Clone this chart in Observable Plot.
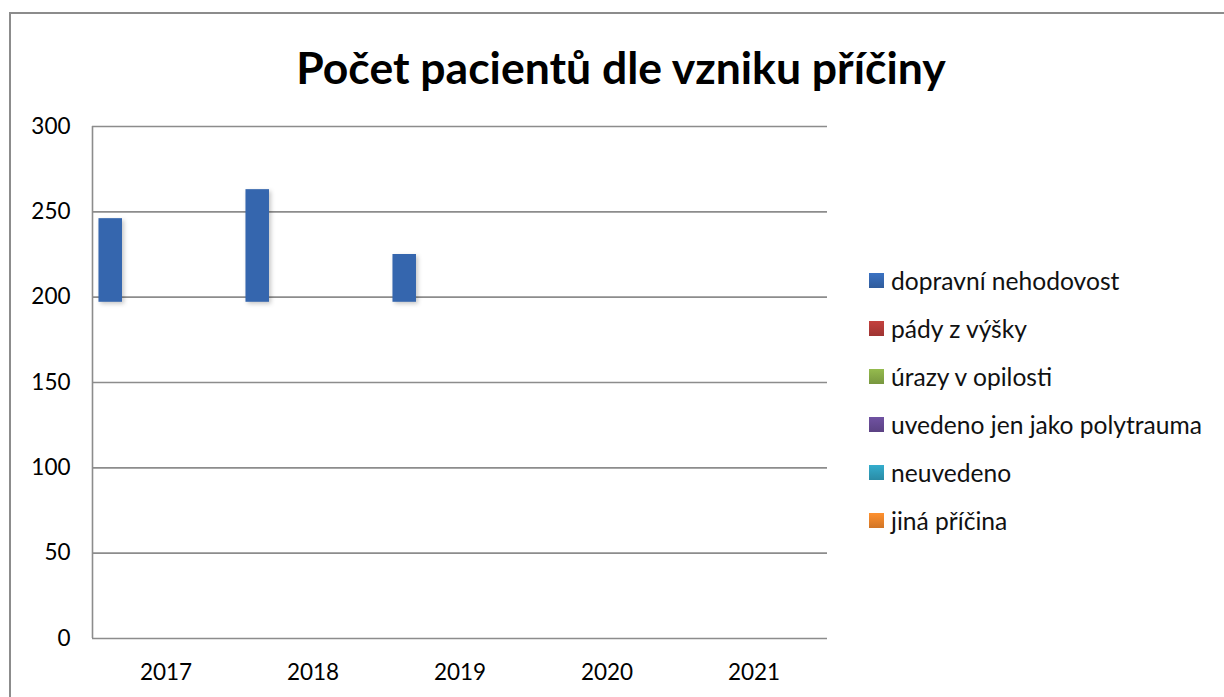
<!DOCTYPE html>
<html>
<head>
<meta charset="utf-8">
<script src="https://cdn.jsdelivr.net/npm/d3@7"></script>
<script src="https://cdn.jsdelivr.net/npm/@observablehq/plot@0.6"></script>
<style>
  html, body { margin: 0; padding: 0; background: #fff; }
  #page { position: relative; width: 1224px; height: 697px; overflow: hidden; background: #fff; font-family: Lato, "Open Sans", sans-serif; }
  #frame { position: absolute; left: 9px; top: 12px; width: 1400px; height: 900px; border-left: 2px solid #8c8c8c; border-top: 2px solid #8c8c8c; }
  #title { position: absolute; left: 10px; width: 1222px; top: 40px; text-align: center; font-weight: 700; font-size: 44.5px; color: #000; line-height: 1.2; white-space: nowrap; }
  #chart { position: absolute; left: 0; top: 100px; }
  #chart g[aria-label="rect"] rect { filter: drop-shadow(2px 2px 2px rgba(0,0,0,0.22)); }
  #legend { position: absolute; left: 869px; top: 257px; }
  .item { height: 47.9px; display: flex; align-items: center; font-size: 24.6px; color: #111; white-space: nowrap; }
  .sw { width: 15px; height: 15px; margin-right: 7px; flex: none; }
</style>
</head>
<body>
<div id="page">
  <div id="frame"></div>
  <div id="title"></div>
  <div id="chart"></div>
  <div id="legend"></div>
</div>
<script>
// ---- data ----
const titleText = "Počet pacientů dle vzniku příčiny";
const years = ["2017", "2018", "2019", "2020", "2021"];
const seriesNames = ["dopravní nehodovost", "pády z výšky", "úrazy v opilosti", "uvedeno jen jako polytrauma", "neuvedeno", "jiná příčina"];
const seriesColors = ["#3566ae", "#b03a38", "#86a846", "#654a92", "#2f9bb8", "#e9822a"];
const dopravniTop = [246, 263, 225];
const dopravniBase = [197, 197, 197];
const yTicks = [0, 50, 100, 150, 200, 250, 300];

// ---- layout constants (style) ----
const groupPad = 0.044;   // fraction of a year slot before first bar
const barW = 0.16;        // fraction of a year slot per bar

const rows = dopravniTop.map((v, i) => ({
  idx: i, year: years[i], s: 0, series: seriesNames[0], base: dopravniBase[i], top: v
}));

document.getElementById("title").textContent = titleText;

const grid = "#8c8c8c";
const chart = Plot.plot({
  width: 1224,
  height: 597,
  marginTop: 26,
  marginBottom: 59,
  marginLeft: 92,
  marginRight: 397,
  style: { fontFamily: "Lato, 'Open Sans', sans-serif", color: "#000", background: "transparent" },
  x: { domain: [0, years.length] },
  y: { domain: [0, 300] },
  color: { domain: seriesNames, range: seriesColors },
  marks: [
    Plot.ruleY(yTicks.filter(t => t > 0), { stroke: grid, strokeWidth: 1.6 }),
    Plot.rectY(rows, {
      x1: d => d.idx + groupPad + d.s * barW,
      x2: d => d.idx + groupPad + (d.s + 1) * barW,
      y1: "base", y2: "top", fill: "series"
    }),
    Plot.ruleY([0], { stroke: grid, strokeWidth: 1.6 }),
    Plot.ruleX([0], { y1: 0, y2: 300, stroke: grid, strokeWidth: 1.6 }),
    Plot.axisY({ ticks: yTicks, tickSize: 0, tickPadding: 22, fontSize: 22.5, label: null }),
    Plot.axisX({ ticks: years.map((_, i) => i + 0.5), tickFormat: t => years[Math.floor(t)], tickSize: 0, tickPadding: 26, fontSize: 22.5, label: null })
  ]
});
document.getElementById("chart").appendChild(chart);

const legend = document.getElementById("legend");
seriesNames.forEach((name, i) => {
  const row = document.createElement("div");
  row.className = "item";
  const sw = document.createElement("span");
  sw.className = "sw";
  sw.style.background = `linear-gradient(${d3.color(seriesColors[i]).brighter(0.3)}, ${d3.color(seriesColors[i]).darker(0.3)})`;
  const t = document.createElement("span");
  t.textContent = name;
  row.appendChild(sw); row.appendChild(t);
  legend.appendChild(row);
});
</script>
</body>
</html>
